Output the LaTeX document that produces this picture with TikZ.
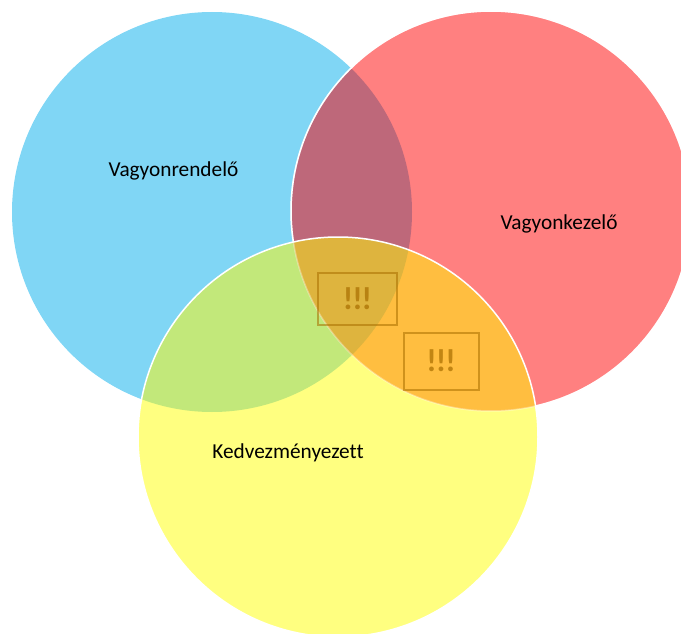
\documentclass[tikz,border=0pt]{standalone}
\usepackage{fontspec}
\setmainfont{Carlito}[Ligatures=NoCommon]
\usetikzlibrary{positioning}

\definecolor{setblue}{HTML}{80D6F5}
\definecolor{setred}{HTML}{FF8080}
\definecolor{setyellow}{HTML}{FFFF80}
\definecolor{mixbr}{HTML}{BE687A}
\definecolor{mixby}{HTML}{C2E87A}
\definecolor{mixry}{HTML}{FFBE40}
\definecolor{mixall}{HTML}{DEB43E}
\definecolor{warnbrown}{HTML}{A86E00}

\begin{document}
\begin{tikzpicture}[
          x = 1pt, y = -1pt, % pixel units, y runs down
          set label/.style = {font = \fontsize{21.3}{25}\selectfont},
          warn box/.style = {
          draw = warnbrown,
          draw opacity = 0.55,
          line width = 2pt,
          minimum width = 79pt,
          minimum height = 52pt,
          text = warnbrown,
          text opacity = 0.7,
          font = \bfseries\fontsize{32}{34}\selectfont
          }
          ]

          \useasboundingbox (0,0) rectangle (681,634);
          \clip (0,0) rectangle (681,634);

          \coordinate (rendelo) at (212,212);
          \coordinate (kezelo) at (491,211);
          \coordinate (kedv) at (338,437);

          % the three sets
          \fill[setblue] (rendelo) circle[radius=200pt];
          \fill[setred] (kezelo) circle[radius=200pt];
          \begin{scope}
            \clip (rendelo) circle[radius=200pt];
            \fill[mixbr] (kezelo) circle[radius=200pt];
          \end{scope}
          \draw[white, line width=1.5pt] (kezelo) circle[radius=200pt];

          \fill[setyellow] (kedv) circle[radius=200pt];
          \begin{scope}
            \clip (rendelo) circle[radius=200pt];
            \fill[mixby] (kedv) circle[radius=200pt];
          \end{scope}
          \begin{scope}
            \clip (kezelo) circle[radius=200pt];
            \fill[mixry] (kedv) circle[radius=200pt];
          \end{scope}
          \begin{scope}
            \clip (rendelo) circle[radius=200pt];
            \clip (kezelo) circle[radius=200pt];
            \fill[mixall] (kedv) circle[radius=200pt];
          \end{scope}
          \draw[white, opacity=0.35, line width=1.5pt] (kezelo) circle[radius=200pt];
          \draw[white, line width=1.5pt] (kedv) circle[radius=200pt];

          % labels
          \node[set label] (lrendelo) at (173.5,171) {Vagyonrendelő};
          \node[set label] (lkezelo) at (559,224) {Vagyonkezelő};
          \node[set label] (lkedv) at (288,453) {Kedvezményezett};

          % warnings
          \node[warn box] (warn1) at (357.5,299) {!\kern-1pt!\kern-1pt!};
          \node[warn box, minimum width=75pt, minimum height=57pt] (warn2) at (441,361) {!\kern-1pt!\kern-1pt!};

        \end{tikzpicture}
\end{document}
